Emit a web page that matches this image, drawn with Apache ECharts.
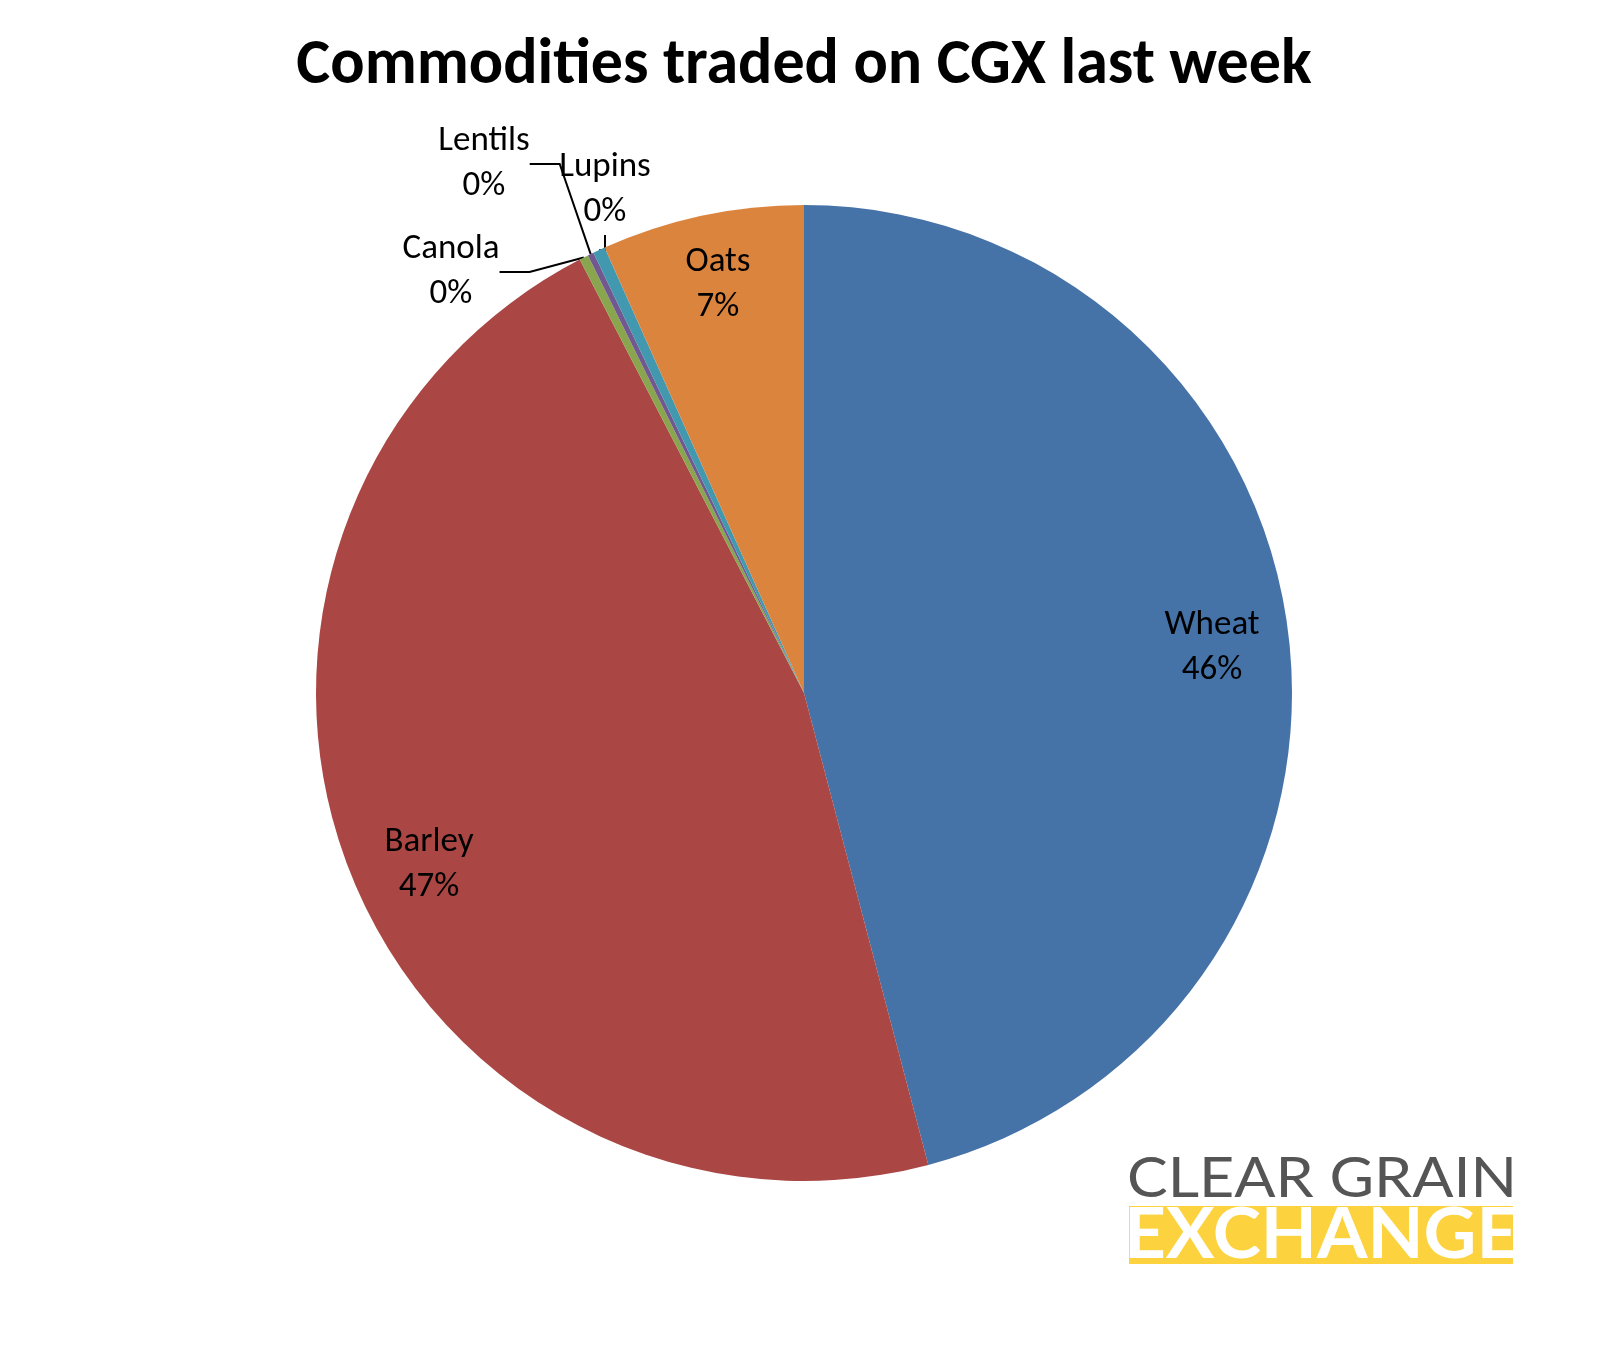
<!DOCTYPE html>
<html><head><meta charset="utf-8">
<script src="https://cdn.jsdelivr.net/npm/echarts@6/dist/echarts.min.js"></script>
<style>html,body{margin:0;background:#fff}#c{width:1608px;height:1350px}</style>
</head><body><div id="c"></div>
<script>
const categories = ['Wheat','Barley','Canola','Lentils','Lupins','Oats'];
const values = [45.9, 46.5, 0.3, 0.2, 0.4, 6.7];
const colors = ['#4572A7','#AA4643','#89A54E','#71588F','#4198AF','#DB843D'];
const font = "Carlito, Calibri, 'Open Sans', sans-serif";
const outsidePos = {2:[451,272],3:[484,164],4:[605,190]};
const chart = echarts.init(document.getElementById('c'));
chart.setOption({
  animation:false,
  title:{text:'Commodities traded on CGX last week',left:'center',top:30,
    textStyle:{fontFamily:font,fontSize:64,fontWeight:'bold',color:'#000'}},
  graphic:[
    {type:'text',x:1127,y:1150,scaleX:1.07,style:{text:'CLEAR GRAIN',font:'57px Lato, sans-serif',fill:'#555'}},
    {type:'rect',shape:{x:1129,y:1206,width:384,height:58},style:{fill:'#FCD33F'}},
    {type:'text',x:1124,y:1200,scaleX:1.04,style:{text:'EXCHANGE',font:'bold 70px Lato, sans-serif',fill:'#fff'}}
  ],
  series:[{
    type:'pie',center:[804,693],radius:488,startAngle:90,clockwise:true,
    data:categories.map((n,i)=>({name:n,value:values[i],itemStyle:{color:colors[i]},
      label: outsidePos[i] ? {position:'outside'} : {position:'inside'},
      labelLine: {show: !!outsidePos[i], lineStyle:{color:'#000',width:2}}
    })),
    label:{formatter:p=>p.name+'\n'+Math.round(p.percent)+'%',fontFamily:font,fontSize:35,color:'#000',lineHeight:45},
    labelLayout:function(p){
      const i=p.dataIndex;
      if(outsidePos[i]) return {x:outsidePos[i][0],y:outsidePos[i][1],align:'center',verticalAlign:'middle'};
      if(i===0) return {x:1212,y:648,align:'center',verticalAlign:'middle'};
      if(i===1) return {x:429,y:865,align:'center',verticalAlign:'middle'};
      if(i===5) return {x:718,y:285,align:'center',verticalAlign:'middle'};
    }
  }]
});
</script></body></html>
